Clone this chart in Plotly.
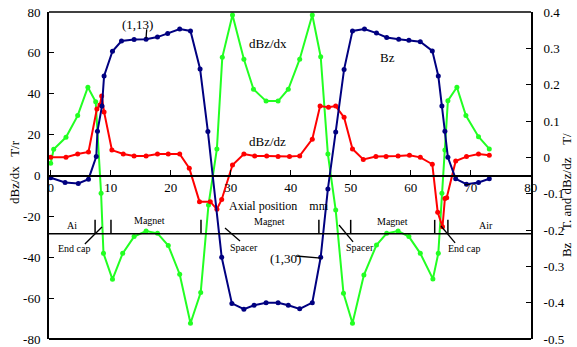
import plotly.graph_objects as go

# ---- data ----
bz_x = [0, 2.4, 4.6, 6.3, 7.6, 7.8, 8.55, 8.9, 10.3, 11.8, 13.9, 15.9, 17.8, 19.5, 21.5, 23.3,
        24.9, 26.2, 28.5, 30.2, 32.2, 33.9, 35.9, 37.9, 39.6, 41.5, 43.6, 45.0, 46.2, 47.5,
        48.9, 50.3, 52.3, 54.3, 56.0, 58.0, 59.7, 61.6, 63.6, 64.6, 65.2, 65.7, 66.2, 67.5,
        69.3, 71.3, 73.1]
bz_y = [-0.056, -0.069, -0.072, -0.060, 0.002, 0.072, 0.141, 0.224, 0.292, 0.320, 0.324, 0.325,
        0.331, 0.341, 0.353, 0.348, 0.243, 0.071, -0.275, -0.402, -0.418, -0.407, -0.400, -0.400,
        -0.407, -0.417, -0.400, -0.275, -0.087, 0.070, 0.242, 0.348, 0.353, 0.342, 0.330, 0.325,
        0.322, 0.318, 0.293, 0.224, 0.141, 0.072, 0.0, -0.059, -0.074, -0.069, -0.059]

dzz_x = [0, 2.55, 4.5, 6.3, 7.7, 8.2, 8.5, 8.9, 10.2, 12.1, 13.9, 15.9, 17.8, 19.6, 21.5, 23.1,
         24.8, 26.6, 27.7, 28.5, 30.3, 32.2, 34.0, 36.0, 37.9, 39.8, 41.5, 43.6, 44.9, 46.3,
         47.5, 48.9, 50.3, 52.1, 54.2, 55.9, 57.9, 59.8, 61.6, 63.6, 64.5, 65.3, 65.7, 66.0,
         67.5, 69.3, 71.3, 73.1]
dzz_y = [0.0, 0.0, 0.009, 0.015, 0.133, 0.144, 0.169, 0.125, 0.020, 0.009, 0.004, 0.004, 0.009,
         0.009, 0.009, -0.030, -0.122, -0.122, -0.143, -0.116, -0.021, 0.009, 0.004, 0.004, 0.002,
         0.002, 0.004, 0.050, 0.141, 0.138, 0.141, 0.110, 0.023, -0.006, 0.002, 0.002, 0.004,
         0.006, 0.0, -0.019, -0.151, -0.191, -0.113, -0.111, -0.010, 0.002, 0.009, 0.006]

dzx_x = [0, 0.5, 2.55, 4.5, 6.2, 7.5, 8.4, 8.8, 10.3, 12.0, 13.9, 15.9, 17.8, 19.6, 21.5, 23.3,
         25.0, 26.3, 27.7, 28.6, 30.3, 32.2, 33.8, 35.9, 37.9, 39.6, 41.5, 43.6, 45.0, 46.2,
         47.5, 48.8, 50.3, 52.2, 54.3, 56.0, 57.9, 59.7, 61.6, 63.7, 64.6, 65.2, 65.7, 66.2,
         67.7, 69.2, 71.3, 73.1]
dzx_y = [6.0, 12.8, 18.7, 29.3, 43.2, 36.1, -8.7, -38.1, -50.8, -38.1, -29.9, -27.2, -28.3, -34.3,
         -48.3, -72.3, -57.3, -14.4, 13.0, 57.8, 78.5, 56.9, 42.2, 36.4, 36.4, 42.2, 56.9, 78.5,
         58.1, 10.5, -16.9, -57.6, -72.3, -48.7, -34.0, -28.3, -27.2, -29.9, -38.1, -50.6, -38.1,
         -8.7, 12.5, 36.6, 43.2, 29.3, 19.0, 13.0]

x_ticks = [0, 10, 20, 30, 40, 50, 60, 70, 80]
x_ticktext = ["0", "10", "20", "30", "40", "50", "60", "70", "80"]
y1_ticks = [-80, -60, -40, -20, 0, 20, 40, 60, 80]
y1_ticktext = ["-80", "-60", "-40", "-20", "0", "20", "40", "60", "80"]
y2_ticks = [-0.5, -0.4, -0.3, -0.2, -0.1, 0, 0.1, 0.2, 0.3, 0.4]
y2_ticktext = ["-0.5", "-0.4", "-0.3", "-0.2", "-0.1", "0", "0.1", "0.2", "0.3", "0.4"]

# region boundaries marked on the lower line
boundary_x = [7.4, 10.05, 25.05, 44.7, 50.0, 64.0, 66.2]
region_line_y = -28.5

FONT = "Liberation Serif, Times New Roman, serif"
GREEN = "#22ff22"
RED = "#ff0000"
NAVY = "#000080"

fig = go.Figure()
fig.add_trace(go.Scatter(x=dzx_x, y=dzx_y, mode="lines+markers", yaxis="y",
                         line=dict(color=GREEN, width=2), marker=dict(color=GREEN, size=5),
                         name="dBz/dx"))
fig.add_trace(go.Scatter(x=dzz_x, y=dzz_y, mode="lines+markers", yaxis="y2",
                         line=dict(color=RED, width=2), marker=dict(color=RED, size=5),
                         name="dBz/dz"))
fig.add_trace(go.Scatter(x=bz_x, y=bz_y, mode="lines+markers", yaxis="y2",
                         line=dict(color=NAVY, width=2), marker=dict(color=NAVY, size=5),
                         name="Bz"))

shapes = []
# frame top and bottom
shapes.append(dict(type="line", xref="paper", yref="paper", x0=0, x1=1, y0=1, y1=1,
                   line=dict(color="black", width=1.5)))
shapes.append(dict(type="line", xref="paper", yref="paper", x0=0, x1=1, y0=0, y1=0,
                   line=dict(color="black", width=2)))
# lower region line
shapes.append(dict(type="line", xref="paper", yref="y", x0=0, x1=1, y0=region_line_y, y1=region_line_y,
                   line=dict(color="black", width=1.5)))
for bx in boundary_x:
    shapes.append(dict(type="line", xref="x", yref="y", x0=bx, x1=bx,
                       y0=region_line_y, y1=region_line_y + 6.8,
                       line=dict(color="black", width=1.5)))
# leader lines
leaders = [(5.7, -33.5, 8.55, -25.2), (29.05, -25.7, 31.55, -32.0), (48.05, -24.2, 50.4, -32.5),
           (65.05, -24.7, 67.4, -33.0), (16.0, 71.5, 15.9, 67.1), (40.9, -39.4, 45.05, -40.4)]
for (a, b, c, d) in leaders:
    shapes.append(dict(type="line", xref="x", yref="y", x0=a, y0=b, x1=c, y1=d,
                       line=dict(color="black", width=1.3)))

annotations = []
def txt(x, y, t, size=12):
    annotations.append(dict(x=x, y=y, xref="x", yref="y", text=t, showarrow=False,
                            xanchor="center", yanchor="middle",
                            font=dict(family=FONT, size=size, color="black")))

txt(14.55, 74.1, "(1,13)", 13)
txt(36.2, 64.8, "dBz/dx", 13)
txt(36.2, 16.4, "dBz/dz", 13)
txt(56.2, 57.5, "Bz", 13)
txt(39.2, -40.4, "(1,30)", 13)
txt(38.05, -14.9, "Axial position    mm", 12)
txt(3.55, -24.7, "Ai", 10)
txt(16.55, -21.8, "Magnet", 10)
txt(36.55, -22.7, "Magnet", 10)
txt(56.9, -22.7, "Magnet", 10)
txt(72.55, -24.7, "Air", 10)
txt(4.05, -35.5, "End cap", 10)
txt(32.2, -35.0, "Spacer", 10)
txt(51.55, -35.0, "Spacer", 10)
txt(68.9, -35.5, "End cap", 10)

# axis titles
annotations.append(dict(x=-0.0705, y=0.511, xref="paper", yref="paper", text="dBz/dx   T/r",
                        textangle=-90, showarrow=False, xanchor="center", yanchor="middle",
                        font=dict(family=FONT, size=13, color="black")))
annotations.append(dict(x=1.0726, y=0.44, xref="paper", yref="paper",
                        text="Bz    T. and dBz/dz    T/", textangle=-90, showarrow=False,
                        xanchor="center", yanchor="middle",
                        font=dict(family=FONT, size=13, color="black")))

fig.update_layout(
    width=577, height=347,
    margin=dict(l=49, r=46, t=12, b=8, autoexpand=False),
    paper_bgcolor="white", plot_bgcolor="white",
    showlegend=False,
    font=dict(family=FONT, size=13, color="black"),
    xaxis=dict(range=[-0.28, 80.05], anchor="free", position=0.5, showline=True,
               linecolor="black", linewidth=1.5, ticks="inside", ticklen=5, tickcolor="black",
               tickvals=x_ticks, ticktext=x_ticktext, showgrid=False, zeroline=False,
               tickfont=dict(family=FONT, size=13), automargin=False),
    yaxis=dict(range=[-80, 80], showline=True, linecolor="black", linewidth=2,
               ticks="inside", ticklen=5, tickcolor="black", tickvals=y1_ticks,
               ticktext=y1_ticktext, showgrid=False, zeroline=False,
               tickfont=dict(family=FONT, size=13), ticklabelstandoff=4, automargin=False),
    yaxis2=dict(range=[-0.5, 0.4], overlaying="y", side="right", showline=True,
                linecolor="black", linewidth=2, ticks="inside", ticklen=5, tickcolor="black",
                tickvals=y2_ticks, ticktext=y2_ticktext, showgrid=False, zeroline=False,
                tickfont=dict(family=FONT, size=13), ticklabelstandoff=8, automargin=False),
    shapes=shapes,
    annotations=annotations,
)

fig.write_html("out.html", config={"displayModeBar": False},
               post_script="document.body.style.margin='0';document.body.style.overflow='hidden';")
